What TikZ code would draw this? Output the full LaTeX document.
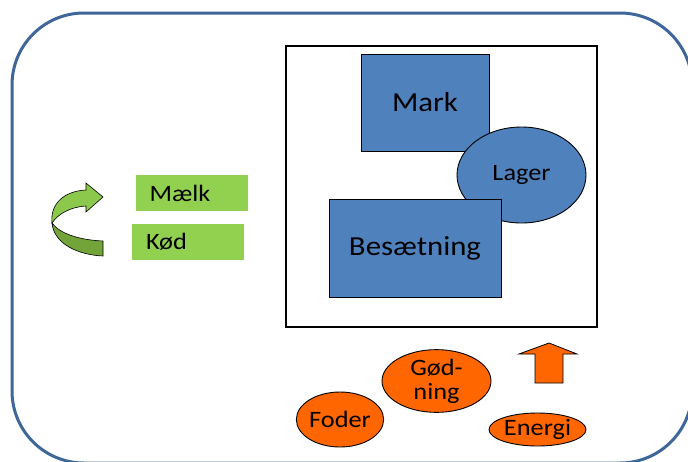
\documentclass[tikz,border=0pt]{standalone}
\usepackage{fontspec}
\setmainfont{Carlito}[FakeStretch=1.12]
\usetikzlibrary{shapes.geometric}
\definecolor{frameblue}{HTML}{3F679A}
\definecolor{boxblue}{HTML}{4F81BD}
\definecolor{leafgreen}{HTML}{92D050}
\definecolor{arrowlight}{HTML}{8CC84B}
\definecolor{arrowdark}{HTML}{72A43A}
\definecolor{inputorange}{HTML}{FF6600}

\begin{document}
\begin{tikzpicture}[x=1pt,y=-1pt,
  bigtxt/.style={font=\fontsize{27.5}{29}\selectfont},
  smalltxt/.style={font=\fontsize{23.5}{25}\selectfont},
  unitbox/.style={draw=black, line width=0.9pt, fill=boxblue, inner sep=0pt, bigtxt},
  store/.style={ellipse, draw=black, line width=0.9pt, fill=boxblue, inner sep=0pt, smalltxt},
  product/.style={fill=leafgreen, inner ysep=0pt, inner xsep=14pt, text width=84pt,
                  minimum height=36pt, align=left, smalltxt},
  supply/.style={ellipse, draw=black, line width=0.9pt, fill=inputorange, inner sep=0pt, smalltxt},
]
\path[use as bounding box, clip] (0,0) rectangle (688,461);
\fill[white] (0,0) rectangle (688,461);

% farm boundary
\draw[frameblue, line width=3pt, rounded corners=72pt] (12,13) rectangle (692,463);

% farm core
\node[draw=black, line width=1.1pt, fill=white, minimum width=311pt, minimum height=281pt,
      inner sep=0pt] (core) at (441.5,186.5) {};
\node[unitbox, minimum width=128pt, minimum height=97pt] (mark) at (425,102.5) {Mark};
\node[store, minimum width=129pt, minimum height=96pt] (lager) at (521.5,175) {Lager};
\node[unitbox, minimum width=172pt, minimum height=98pt] (besaetning) at (415,248) {Besætning};

% products leaving the farm
\node[product] (maelk) at (191.5,193) {Mælk};
\node[product] (koed) at (188,242) {Kød};

% curved output arrow
\draw[black, line width=0.6pt, fill=arrowdark]
  (52,223) .. controls (54,245) and (80,255) .. (103,256) -- (103,241)
  .. controls (80,240) and (60,234) .. (52,223) -- cycle;
\draw[black, line width=0.6pt, fill=arrowlight]
  (86,190) .. controls (65,191) and (50,203) .. (52,223)
  .. controls (58,214) and (70,207) .. (86,206) -- (86,212) -- (103,197)
  -- (86,183) -- cycle;

% inputs
\node[supply, minimum width=86pt, minimum height=55pt] (foder) at (340,419.5) {Foder};
\node[supply, minimum width=109pt, minimum height=58pt, align=center,
      font=\fontsize{23.5}{24}\selectfont] (goedning) at (436.5,381) {Gød-\\ning};
\node[supply, minimum width=97pt, minimum height=33pt] (energi) at (537.5,429.5) {Energi};

% input arrow
\draw[black, line width=0.8pt, fill=inputorange]
  (549,343) -- (577,354) -- (563,354) -- (563,383) -- (535,383) -- (535,354)
  -- (519,354) -- cycle;
\end{tikzpicture}
\end{document}
